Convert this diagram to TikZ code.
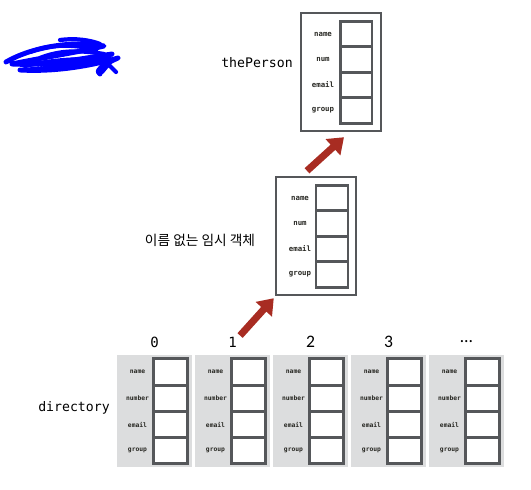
\documentclass[tikz,border=0pt]{standalone}
\usepackage{fontspec}
\setmonofont{DejaVu Sans Mono}
\setsansfont{Carlito}
\newfontfamily\kofont{Noto Sans CJK KR}
\usepackage{tikz}
\usetikzlibrary{shapes.geometric, arrows.meta, positioning}
\definecolor{boxgray}{RGB}{85,87,90}
\definecolor{slotgray}{RGB}{220,221,222}
\definecolor{arrowred}{RGB}{168,44,34}
\definecolor{labelgray}{RGB}{40,40,35}
\tikzstyle{record} = [rectangle, draw=boxgray, line width=1.4pt, minimum width=1.6cm, minimum height=2.36cm]
\tikzstyle{cell} = [rectangle, draw=boxgray, line width=1.7pt, fill=white, outer sep=0pt, minimum width=0.64cm, minimum height=0.51cm]
\tikzstyle{slot} = [rectangle, fill=slotgray, minimum width=1.52cm, minimum height=2.24cm]
\tikzstyle{slotcell} = [cell, minimum width=0.68cm, minimum height=0.525cm]
\tikzstyle{field} = [inner sep=0pt, text=labelgray, font=\fontsize{4.2}{5}\selectfont\ttfamily\bfseries]
\tikzstyle{smallfield} = [field, font=\fontsize{3.6}{4}\selectfont\ttfamily\bfseries]
\tikzstyle{varname} = [inner sep=0pt, font=\fontsize{7.5}{9}\selectfont\ttfamily]
\tikzstyle{arrow} = [line width=4pt, draw=arrowred, -{Triangle[length=8.5pt, width=12pt]}]

\begin{document}
\begin{tikzpicture}[x=0.02cm, y=-0.02cm]
    \useasboundingbox (0,0) rectangle (531,490);
    % scribbled-over title
    \draw [blue, line width=2.8pt, line cap=round, line join=round]
        (6,62) .. controls (30,48) and (70,40) .. (104,46)
        .. controls (80,52) and (40,58) .. (12,64)
        .. controls (45,66) and (85,58) .. (112,54)
        .. controls (90,62) and (50,70) .. (20,70)
        .. controls (55,72) and (90,66) .. (118,58)
        .. controls (100,66) and (95,72) .. (100,74);
    \draw [blue, line width=2.4pt, line cap=round, line join=round]
        (30,52) .. controls (50,44) and (75,44) .. (96,50)
        (40,58) .. controls (60,50) and (80,50) .. (104,54)
        (25,66) .. controls (50,60) and (80,58) .. (100,60)
        (60,40) .. controls (75,38) and (90,40) .. (100,44)
        (104,60) -- (116,72) (112,60) -- (102,72);
    % thePerson
    \node (person) [record] at (341,72) {};
    \node (pname) [cell] at (356,34) {};
    \node (pnum) [cell, below=0pt of pname] {};
    \node (pemail) [cell, below=0pt of pnum] {};
    \node (pgroup) [cell, below=0pt of pemail] {};
    \node [field] at ([xshift=-0.66cm]pname.center) {name};
    \node [field] at ([xshift=-0.66cm]pnum.center) {num};
    \node [field] at ([xshift=-0.66cm]pemail.center) {email};
    \node [field] at ([xshift=-0.66cm]pgroup.center) {group};
    \node (personlabel) [varname] at (257,63) {thePerson};
    % temporary object
    \node (tmp) [record] at (316,236) {};
    \node (tname) [cell] at (332,198) {};
    \node (tnum) [cell, below=0pt of tname] {};
    \node (temail) [cell, below=0pt of tnum] {};
    \node (tgroup) [cell, below=0pt of temail] {};
    \node [field] at ([xshift=-0.64cm]tname.center) {name};
    \node [field] at ([xshift=-0.64cm]tnum.center) {num};
    \node [field] at ([xshift=-0.64cm]temail.center) {email};
    \node [field] at ([xshift=-0.64cm]tgroup.center) {group};
    \node (tmplabel) [inner sep=0pt, font=\fontsize{7.8}{9}\kofont] at (200,240) {이름 없는 임시 객체};
    % directory array
    \foreach \i/\lab in {0/{\ttfamily 0}, 1/{\ttfamily 1}, 2/{\sffamily\fontsize{10}{11}\selectfont 2}, 3/{\sffamily\fontsize{10}{11}\selectfont 3}, 4/{\sffamily\fontsize{10}{11}\selectfont\ldots}} {
        \node (slot\i) [slot] at (154.5+78*\i,411) {};
        \node (idx\i) [inner sep=0pt, font=\fontsize{8}{9}\selectfont] at (154.5+78*\i,342) {\lab};
        \node (sname\i) [slotcell] at (170.5+78*\i,372) {};
        \node (snum\i) [slotcell, below=0pt of sname\i] {};
        \node (semail\i) [slotcell, below=0pt of snum\i] {};
        \node (sgroup\i) [slotcell, below=0pt of semail\i] {};
        \node [smallfield] at ([xshift=-0.66cm]sname\i.center) {name};
        \node [smallfield] at ([xshift=-0.66cm]snum\i.center) {number};
        \node [smallfield] at ([xshift=-0.66cm]semail\i.center) {email};
        \node [smallfield] at ([xshift=-0.66cm]sgroup\i.center) {group};
    }
    \node (dirlabel) [varname] at (74,408) {directory};
    % Arrows
    \draw [arrow] ([xshift=0.06cm,yshift=0.02cm]idx1.north east) -- ([xshift=-0.02cm,yshift=-0.04cm]tmp.south west);
    \draw [arrow] ([xshift=-0.18cm,yshift=0.1cm]tmp.north) -- ([xshift=0.06cm,yshift=-0.1cm]person.south);
\end{tikzpicture}
\end{document}
